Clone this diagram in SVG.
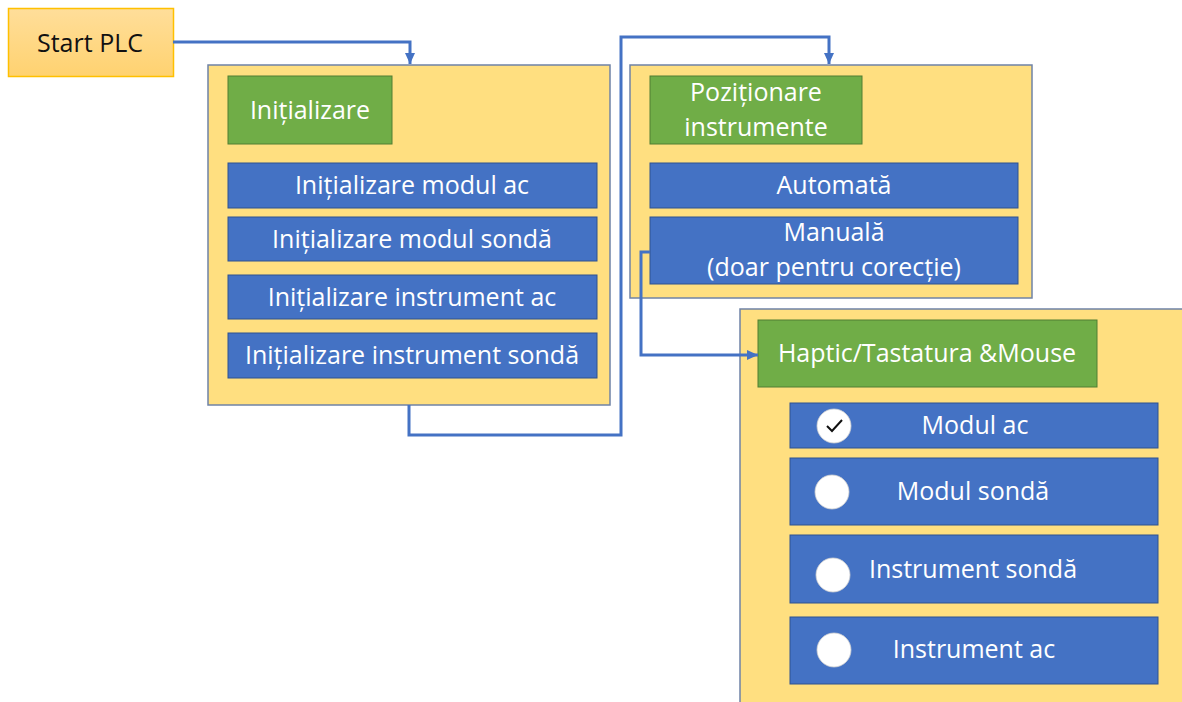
<svg xmlns="http://www.w3.org/2000/svg" width="1182" height="702" viewBox="0 0 1182 702">
<defs>
<style>
.t{font-family:"Open Sans","Noto Sans",sans-serif;font-size:25px;fill:#fff;text-anchor:middle}
.cont{fill:#FFDF80;stroke:#6F83A6;stroke-width:1.5}
.grn{fill:#70AD47;stroke:#507E32;stroke-width:1}
.blu{fill:#4472C4;stroke:#2F528F;stroke-width:1}
.conn{fill:none;stroke:#4472C4;stroke-width:3}
.dot{fill:#fff;stroke:#d0d0d0;stroke-width:0.8}
</style>
<linearGradient id="og" x1="0" y1="0" x2="0" y2="1"><stop offset="0" stop-color="#FFDE9A"/><stop offset="1" stop-color="#FFD270"/></linearGradient>
<marker id="ar" markerWidth="12" markerHeight="12" refX="11" refY="6" orient="auto" markerUnits="userSpaceOnUse" viewBox="0 0 12 12"><path d="M0,1 L11,6 L0,11 z" fill="#4472C4"/></marker>
</defs>
<rect width="1182" height="702" fill="#fff"/>

<g id="start">
<rect x="8.5" y="8.5" width="165" height="68" fill="url(#og)" stroke="#FFC000" stroke-width="1.5"/>
<text x="90" y="52" class="t" style="fill:#111">Start PLC</text>
</g>

<g id="init">
<rect class="cont" x="208" y="65" width="402" height="340"/>
<rect class="grn" x="228" y="76" width="164" height="68"/>
<text class="t" x="310" y="119">Inițializare</text>
<rect class="blu" x="228" y="163" width="369" height="45"/>
<text class="t" x="412" y="194">Inițializare modul ac</text>
<rect class="blu" x="228" y="217" width="369" height="44"/>
<text class="t" x="412" y="248">Inițializare modul sondă</text>
<rect class="blu" x="228" y="275" width="369" height="44"/>
<text class="t" x="412" y="306">Inițializare instrument ac</text>
<rect class="blu" x="228" y="333" width="369" height="45"/>
<text class="t" x="412" y="364">Inițializare instrument sondă</text>
</g>

<g id="pozitionare">
<rect class="cont" x="630" y="65" width="402" height="233"/>
<rect class="grn" x="650" y="76" width="212" height="68"/>
<text class="t" x="756" y="101">Poziționare</text>
<text class="t" x="756" y="136">instrumente</text>
<rect class="blu" x="650" y="163" width="368" height="45"/>
<text class="t" x="834" y="194">Automată</text>
<rect class="blu" x="650" y="217" width="368" height="67"/>
<text class="t" x="834" y="241">Manuală</text>
<text class="t" x="834" y="276">(doar pentru corecție)</text>
</g>

<g id="haptic">
<rect class="cont" x="740" y="309" width="450" height="400"/>
<rect class="grn" x="758" y="320" width="339" height="67"/>
<text class="t" x="927" y="362">Haptic/Tastatura &amp;Mouse</text>
<rect class="blu" x="790" y="403" width="368" height="45"/>
<circle class="dot" cx="834" cy="426" r="17"/>
<path d="M827,426 L832,431 L842,420" fill="none" stroke="#111" stroke-width="2"/>
<text class="t" x="975" y="434">Modul ac</text>
<rect class="blu" x="790" y="458" width="368" height="67"/>
<circle class="dot" cx="832" cy="492" r="17"/>
<text class="t" x="973" y="500">Modul sondă</text>
<rect class="blu" x="790" y="535" width="368" height="68"/>
<circle class="dot" cx="833" cy="575" r="17"/>
<text class="t" x="973" y="578">Instrument sondă</text>
<rect class="blu" x="790" y="617" width="368" height="67"/>
<circle class="dot" cx="834" cy="650" r="17"/>
<text class="t" x="974" y="658">Instrument ac</text>
</g>

<g id="connectors">
<path class="conn" d="M173,42 H410 V64" marker-end="url(#ar)"/>
<path class="conn" d="M409,405 V435 H621 V37 H829 V64" marker-end="url(#ar)"/>
<path class="conn" d="M650,252 H641 V355 H758" marker-end="url(#ar)"/>
</g>
</svg>
